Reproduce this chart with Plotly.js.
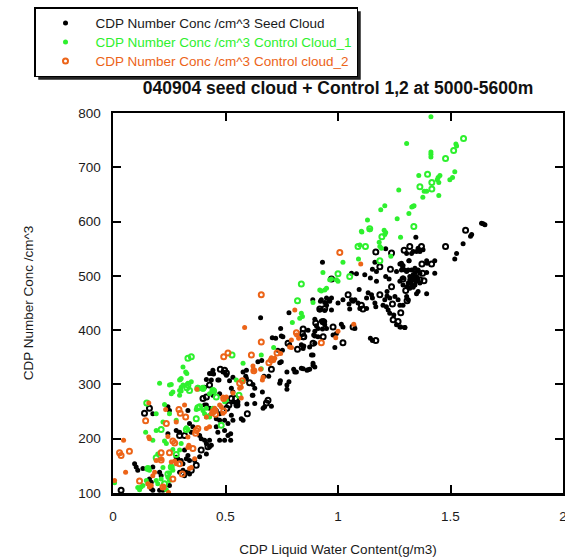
<!DOCTYPE html>
<html>
<head>
<meta charset="utf-8">
<script src="https://cdn.plot.ly/plotly-3.0.1.min.js"></script>
<style>html,body{margin:0;padding:0;background:#fff}</style>
</head>
<body>
<div id="chart" style="width:565px;height:560px"></div>
<script>
// ---- Data ----
const seriesNames = [
  'CDP Number Conc /cm^3 Seed Cloud',
  'CDP Number Conc /cm^3 Control Cloud_1',
  'CDP Number Conc /cm^3 Control cloud_2'
];
const xTickVals = [0, 0.5, 1, 1.5, 2];
const xTickText = ['0', '0.5', '1', '1.5', '2'];
const yTickVals = [100, 200, 300, 400, 500, 600, 700, 800];
const yTickText = ['100', '200', '300', '400', '500', '600', '700', '800'];

// Seed cloud, filled dots
const seedFilledX = [1.645,1.638,1.653,1.594,1.589,1.346,1.556,1.527,1.519,1.334,1.349,1.327,1.315,1.282,1.287,1.394,1.396,1.430,1.297,1.312,1.356,1.342,1.430,1.394,1.332,1.339,1.345,1.323,1.319,1.312,1.327,1.334,1.356,1.349,1.394,1.305,1.312,1.289,1.279,1.297,1.212,1.364,1.356,1.378,1.305,1.316,0.931,1.164,1.153,1.171,1.275,1.289,1.282,1.260,1.305,1.327,1.342,1.356,1.364,1.349,1.334,1.319,1.334,1.356,1.364,1.342,1.060,1.082,1.119,1.144,1.171,1.212,1.227,1.289,1.275,1.289,1.307,1.319,1.094,1.134,1.149,1.127,1.153,1.218,1.218,1.208,1.230,1.253,1.267,1.275,0.971,0.963,1.000,1.022,1.060,1.067,1.075,1.089,1.097,1.127,1.049,1.052,1.164,1.168,1.200,1.215,1.223,0.941,0.949,0.971,1.230,1.248,1.260,1.275,1.297,0.897,0.926,0.941,0.911,0.904,1.015,1.022,1.075,0.867,0.897,0.911,0.978,0.993,1.144,1.153,0.897,0.986,0.837,0.845,0.889,0.889,0.867,0.845,0.656,0.782,0.745,0.708,0.723,0.748,0.755,0.785,0.848,0.897,0.892,0.882,0.753,0.741,0.661,0.644,0.803,0.808,0.815,0.837,0.862,0.874,0.889,0.897,0.773,0.692,0.744,0.741,0.782,0.773,0.773,0.671,0.590,0.593,0.578,0.593,0.622,0.630,0.622,0.437,0.447,0.471,0.518,0.533,0.526,0.533,0.407,0.415,0.407,0.415,0.551,0.555,0.595,0.667,0.704,0.570,0.931,0.941,0.946,0.960,0.922,0.919,0.941,0.931,0.949,0.888,0.926,0.949,0.874,0.674,0.578,0.630,0.733,0.748,0.429,0.444,0.489,0.504,0.437,0.466,0.444,0.474,0.533,0.548,0.244,0.251,0.177,0.333,0.429,0.459,0.474,0.281,0.296,0.244,0.340,0.355,0.348,0.385,0.392,0.459,0.466,0.496,0.511,0.496,0.474,0.429,0.429,0.407,0.415,0.437,0.318,0.333,0.326,0.340,0.363,0.303,0.311,0.281,0.288,0.385,0.415,0.296,0.311,0.318,0.096,0.103,0.110,0.177,0.207,0.214,0.162,0.170,0.170,0.177,0.207,0.222,0.251,0.326,0.340,0.526,0.533,0.511,0.496,0.459,0.474,0.619,0.664,0.523,0.523,0.133];
const seedFilledY = [596,597,594,576,573,571,559,541,531,545,545,541,528,523,517,528,523,528,511,511,509,506,505,506,498,493,489,489,493,487,483,479,471,467,467,462,456,446,406,405,550,545,551,548,541,528,525,525,512,508,522,519,511,508,508,511,514,511,505,499,502,499,493,493,487,483,505,504,502,496,490,499,494,496,490,483,480,477,475,469,465,459,459,471,463,456,459,462,456,446,459,453,450,456,456,453,456,450,440,440,448,439,450,443,446,443,437,451,446,437,431,428,410,406,405,420,417,416,403,408,411,406,403,400,389,388,391,394,385,381,376,368,373,366,354,335,327,329,423,432,403,386,385,389,388,373,371,398,391,354,363,340,344,342,328,323,323,330,326,328,339,332,323,315,307,302,305,299,291,315,315,311,323,326,300,293,280,320,319,308,307,313,293,286,295,309,262,262,262,268,264,256,260,237,414,410,450,456,453,437,436,402,403,456,456,459,369,259,234,265,363,342,320,326,323,317,308,308,280,283,268,262,259,252,246,252,256,252,246,215,212,209,228,222,212,206,200,222,212,215,206,197,197,197,185,197,191,188,179,169,163,160,160,160,154,166,163,167,172,138,142,132,154,148,142,148,138,132,126,120,108,105,105,105,114,138,135,243,234,228,234,237,234,280,286,209,197,145];

// Seed cloud, open circles
const seedOpenX = [1.567,1.478,1.371,1.319,1.294,1.373,1.416,1.289,1.364,1.382,1.301,1.307,1.279,1.168,1.238,1.186,1.233,1.376,1.238,1.045,1.186,1.242,1.104,1.111,0.919,0.941,1.245,1.267,0.934,0.901,0.978,1.067,0.845,0.934,0.845,1.022,1.168,0.889,0.971,0.820,0.842,0.848,0.704,0.477,0.496,0.504,0.429,0.400,0.526,0.515,0.506,0.689,0.682,0.597,0.607,0.415,0.545,0.140,0.162,0.296,0.318,0.392,0.422,0.370,0.348,0.036,0.551,0.778];
const seedOpenY = [584,554,554,554,547,522,522,494,493,491,473,454,432,544,542,517,512,505,480,465,465,448,446,439,439,440,419,416,416,413,406,406,402,388,388,377,381,376,494,365,394,388,328,328,326,321,299,274,274,262,256,271,266,246,303,277,274,247,256,206,206,179,185,151,142,105,262,376];

// Control cloud 1, filled dots
const c1FilledX = [1.413,1.305,1.524,1.527,1.413,1.413,1.413,1.519,1.359,1.453,1.445,1.441,1.448,1.497,1.509,1.270,1.383,1.394,1.377,1.448,1.334,1.328,1.338,1.208,1.190,1.315,1.263,1.131,1.106,1.205,1.212,1.208,1.278,1.183,1.186,1.193,1.097,1.104,1.141,1.235,1.091,1.022,0.933,0.993,1.000,0.963,0.971,0.919,0.926,0.941,0.949,0.889,0.837,0.842,0.830,0.797,0.714,0.659,0.578,0.659,0.548,0.578,0.400,0.392,0.504,0.496,0.400,0.415,0.407,0.417,0.429,0.444,0.207,0.251,0.296,0.303,0.333,0.348,0.311,0.323,0.328,0.259,0.303,0.296,0.429,0.259,0.299,0.311,0.266,0.303,0.296,0.377,0.229,0.370,0.192,0.251,0.444,0.429,0.222,0.281,0.415,0.429,0.145,0.192,0.326,0.333,0.177,0.229,0.237,0.303,0.199,0.266,0.296,0.222,0.259,0.266,0.251,0.155,0.162,0.148,0.155,0.133,0.125,0.192,0.199,0.214,0.244,0.251,0.110,0.118,0.229,0.237,0.007];
const c1FilledY = [793,744,743,739,728,724,719,692,685,685,681,677,672,677,681,658,656,656,645,648,628,627,629,629,622,615,605,603,581,584,580,576,571,562,554,551,557,582,585,536,531,525,506,493,490,493,494,474,472,474,477,451,431,425,422,414,368,354,339,329,308,305,291,293,271,268,252,256,246,241,241,256,302,299,308,311,302,305,332,323,320,283,295,289,243,300,309,299,286,288,280,295,263,254,246,246,289,283,231,234,240,240,212,215,220,217,197,196,191,191,172,180,179,147,148,142,137,145,142,123,117,114,111,123,117,126,129,123,110,106,110,106,119];

// Control cloud 1, open circles
const c1OpenX = [1.558,1.514,1.478,1.398,1.417,1.364,1.417,1.141,1.337,1.195,1.122,1.089,1.186,1.000,1.052,0.837,0.820,0.529,0.447,0.459,0.560,0.333,0.348,0.328,0.377,0.400,0.444,0.385,0.481,0.340,0.333,0.150,0.377,0.370,0.214,0.326,0.192,0.281,0.259,0.155,0.244,0.229];
const c1OpenY = [753,731,716,687,672,664,660,587,591,572,554,554,528,504,499,485,454,354,288,277,280,348,351,294,293,293,289,259,225,289,299,266,257,237,217,217,165,171,148,145,135,117];

// Control cloud 2, filled dots
const c2FilledX = [1.101,1.070,1.000,0.990,0.808,0.585,0.816,0.825,0.793,0.785,0.793,0.745,0.714,0.719,0.704,0.622,0.626,0.656,0.667,0.664,0.570,0.563,0.533,0.570,0.489,0.496,0.504,0.474,0.481,0.452,0.444,0.437,0.415,0.159,0.047,0.056,0.007,0.159,0.162,0.234,0.318,0.373,0.281,0.244,0.333,0.337,0.333,0.340,0.192,0.214,0.259,0.274,0.281,0.185,0.177,0.225,0.155,0.162,0.170,0.340,0.348,0.363,0.415,0.429,0.489,0.247];
const c2FilledY = [522,411,398,386,437,405,391,385,382,369,368,357,344,348,349,334,326,328,313,308,295,293,284,275,277,274,277,262,259,256,251,246,240,266,197,138,123,203,200,254,262,291,231,204,203,188,184,185,160,163,157,159,154,138,132,111,117,111,114,145,147,163,219,222,247,101];

// Control cloud 2, open circles
const c2OpenX = [1.008,0.926,0.659,0.815,0.659,0.615,0.492,0.511,0.729,0.693,0.704,0.626,0.575,0.563,0.492,0.492,0.456,0.145,0.029,0.036,0.073,0.237,0.293,0.299,0.323,0.266,0.274,0.214,0.251,0.214,0.296,0.266,0.222,0.118,0.308,0.370,0.377,0.444,0.452,0.367,0.355];
const c2OpenY = [543,377,465,395,378,354,351,358,358,340,345,325,307,302,274,251,245,233,174,169,177,228,254,247,240,196,192,174,174,161,154,126,111,122,135,215,219,249,252,210,182];

// ---- Styles ----
const BLACK = '#000000';
const GREEN = '#2ef02e';
const ORANGE = '#ec6418';
const FONT = '"Liberation Sans", Arial, Helvetica, sans-serif';

// legend label: larger glyphs inside a legend whose row height follows a smaller base font
function legendLabel(text, color) {
  return '<span style="font-size:13.5px;color:' + color + '">' + text + '</span>';
}

function filled(x, y, color, name, show, rank) {
  return {type: 'scatter', mode: 'markers', x: x, y: y, name: name, showlegend: show,
    legendrank: rank, hoverinfo: 'x+y',
    marker: {symbol: 'circle', size: 5, color: color, line: {width: 0}}};
}
function open(x, y, color, name, show, rank) {
  return {type: 'scatter', mode: 'markers', x: x, y: y, name: name, showlegend: show,
    legendrank: rank, hoverinfo: 'x+y',
    marker: {symbol: 'circle-open', size: 5, color: color, line: {width: 2, color: color}}};
}

const traces = [
  filled(seedFilledX, seedFilledY, BLACK, legendLabel(seriesNames[0], '#1a1a1a'), true, 1),
  open(seedOpenX, seedOpenY, BLACK, seriesNames[0], false, 10),
  filled(c1FilledX, c1FilledY, GREEN, legendLabel(seriesNames[1], GREEN), true, 2),
  open(c1OpenX, c1OpenY, GREEN, seriesNames[1], false, 11),
  filled(c2FilledX, c2FilledY, ORANGE, seriesNames[2], false, 12),
  open(c2OpenX, c2OpenY, ORANGE, legendLabel(seriesNames[2], ORANGE), true, 3)
];

const W = 565, H = 560, L = 113, R = 2, T = 113, B = 67;
const PW = W - L - R, PH = H - T - B;
const px2paperX = p => (p - L) / PW;
const px2paperY = p => (H - B - p) / PH;
const SHADOW = 3.5;

function shadowShape(left, top, right, bottom) {
  return {
    type: 'rect', xref: 'paper', yref: 'paper', layer: 'above',
    x0: px2paperX(left + SHADOW), x1: px2paperX(right + SHADOW),
    y0: px2paperY(bottom + SHADOW), y1: px2paperY(top + SHADOW),
    fillcolor: '#222', line: {width: 0}
  };
}

const layout = {
  width: W, height: H,
  margin: {l: L, r: R, t: T, b: B, pad: 0},
  paper_bgcolor: '#ffffff', plot_bgcolor: '#ffffff',
  font: {family: FONT, size: 13, color: '#1a1a1a'},
  title: {
    text: '040904 seed cloud + Control 1,2 at 5000-5600m',
    font: {family: FONT, size: 17.5, weight: 'bold', color: '#111'},
    xref: 'paper', x: 0.5, xanchor: 'center',
    yref: 'container', y: 1 - 88 / H, yanchor: 'middle'
  },
  xaxis: {
    range: [0, 2], tickvals: xTickVals, ticktext: xTickText,
    ticks: 'inside', ticklen: 8, tickwidth: 2, tickcolor: '#000',
    showline: true, linewidth: 2.5, linecolor: '#000', mirror: 'ticks',
    showgrid: false, zeroline: false, automargin: false,
    ticklabeloverflow: 'allow', ticklabelstandoff: 9,
    tickfont: {family: FONT, size: 13.5, color: '#1a1a1a'},
    title: {text: 'CDP Liquid Water Content(g/m3)', standoff: 22, font: {family: FONT, size: 13.5, color: '#1a1a1a'}}
  },
  yaxis: {
    range: [100, 800], tickvals: yTickVals, ticktext: yTickText,
    ticks: 'inside', ticklen: 8, tickwidth: 2, tickcolor: '#000',
    showline: true, linewidth: 2.5, linecolor: '#000', mirror: 'ticks',
    showgrid: false, zeroline: false, automargin: false,
    ticklabeloverflow: 'allow', ticklabelstandoff: 7,
    tickfont: {family: FONT, size: 13.5, color: '#1a1a1a'},
    title: {text: 'CDP Number Conc /cm^3', standoff: 42, font: {family: FONT, size: 13.5, color: '#1a1a1a'}}
  },
  showlegend: true,
  legend: {
    x: px2paperX(34), y: px2paperY(7), xanchor: 'left', yanchor: 'top',
    bgcolor: '#ffffff', bordercolor: '#000', borderwidth: 1.5,
    itemwidth: 50, font: {family: FONT, size: 11.5, color: '#1a1a1a'},
    traceorder: 'normal'
  },
  // initial estimate of the legend box; refined below from the rendered legend
  shapes: [shadowShape(34, 7, 356, 72)]
};

const gd = document.getElementById('chart');
Plotly.newPlot(gd, traces, layout, {displayModeBar: false, staticPlot: true});
(function refineShadow() {
  const bg = gd.querySelector('.legend rect.bg');
  if (!bg) return;
  const r = bg.getBoundingClientRect();
  const c = gd.getBoundingClientRect();
  if (r.width < 10) return;
  Plotly.relayout(gd, {shapes: [shadowShape(r.left - c.left, r.top - c.top, r.right - c.left, r.bottom - c.top)]});
})();
</script>
</body>
</html>
